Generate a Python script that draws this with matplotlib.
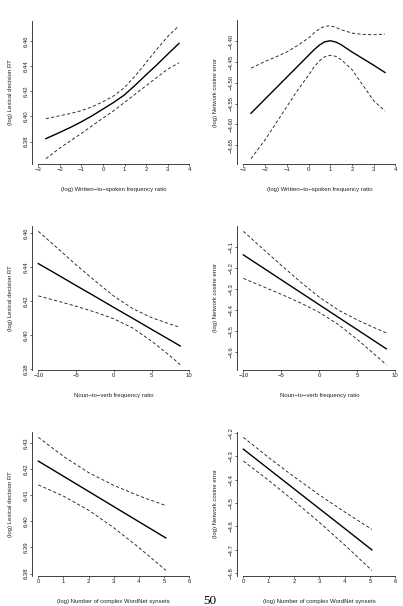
import numpy as np
import matplotlib
matplotlib.use('Agg')
import matplotlib.pyplot as plt

plt.rcParams['font.family'] = ['Liberation Sans', 'DejaVu Sans']

### data
# row 1: written-to-spoken frequency ratio
ws_x = [-2.65, -2.0, -1.5, -1.0, -0.5, 0.0, 0.5, 1.0, 1.5, 2.0, 2.5, 3.0, 3.52]
ws_rt = [6.3824, 6.3874, 6.3914, 6.3958, 6.4006, 6.4059, 6.4112, 6.4172, 6.4249, 6.4331, 6.4410, 6.4494, 6.4579]
ws_rt_hi = [6.3982, 6.4006, 6.4024, 6.4046, 6.4077, 6.4117, 6.4164, 6.4230, 6.4323, 6.4428, 6.4534, 6.4634, 6.4719]
ws_rt_lo = [6.3665, 6.3750, 6.3808, 6.3866, 6.3927, 6.3987, 6.4046, 6.4112, 6.4178, 6.4244, 6.4310, 6.4375, 6.4426]

ws_x2 = [-2.65, -2.0, -1.5, -1.0, -0.5, 0.0, 0.25, 0.5, 0.75, 1.0, 1.25, 1.5, 2.0, 2.5, 3.0, 3.52]
ws_err = [-4.5733, -4.5390, -4.5127, -4.4863, -4.4600, -4.4336, -4.4205, -4.4090, -4.4010, -4.3985,
          -4.4015, -4.4080, -4.4256, -4.4415, -4.4575, -4.4750]
ws_err_hi = [-4.4644, -4.4484, -4.4375, -4.4256, -4.4096, -4.3920, -4.3800, -4.3700, -4.3635, -4.3625,
             -4.3660, -4.3720, -4.3800, -4.3832, -4.3840, -4.3824]
ws_err_lo = [-4.6828, -4.6373, -4.5973, -4.5574, -4.5174, -4.4815, -4.4620, -4.4470, -4.4370, -4.4336,
             -4.4360, -4.4440, -4.4680, -4.5055, -4.5430, -4.5678]

# row 2: noun-to-verb frequency ratio
nv_x = [-10.0, -7.5, -5.0, -2.5, 0.0, 2.5, 5.0, 7.5, 8.8]
nv_rt = [6.4420, 6.4356, 6.4291, 6.4227, 6.4162, 6.4098, 6.4033, 6.3969, 6.3935]
nv_rt_hi = [6.4610, 6.4512, 6.4413, 6.4319, 6.4229, 6.4155, 6.4102, 6.4063, 6.4045]
nv_rt_lo = [6.4230, 6.4200, 6.4169, 6.4135, 6.4095, 6.4041, 6.3964, 6.3875, 6.3825]
nv_err = [-4.1394, -4.1988, -4.2581, -4.3175, -4.3769, -4.4363, -4.4956, -4.5550, -4.5859]
nv_err_hi = [-4.0274, -4.1087, -4.1891, -4.2676, -4.3408, -4.4018, -4.4491, -4.4901, -4.5104]
nv_err_lo = [-4.2514, -4.2889, -4.3271, -4.3674, -4.4130, -4.4708, -4.5421, -4.6199, -4.6614]

# row 3: number of complex WordNet synsets
syn_x = [0.0, 1.0, 2.0, 3.0, 4.0, 5.07]
syn_rt = [6.4230, 6.4172, 6.4114, 6.4056, 6.3998, 6.3936]
syn_rt_hi = [6.4321, 6.4248, 6.4186, 6.4137, 6.4097, 6.4060]
syn_rt_lo = [6.4139, 6.4096, 6.4042, 6.3975, 6.3899, 6.3812]
syn_err = [-4.2687, -4.3539, -4.4391, -4.5243, -4.6095, -4.7014]
syn_err_hi = [-4.2177, -4.3049, -4.3871, -4.4653, -4.5385, -4.6134]
syn_err_lo = [-4.3197, -4.4029, -4.4911, -4.5833, -4.6805, -4.7894]

xlabels = ["(log) Written\u2212to\u2212spoken frequency ratio",
           "Noun\u2212to\u2212verb frequency ratio",
           "(log) Number of complex WordNet synsets"]
ylabels = ["(log) Lexical decision RT", "(log) Network cosine error"]

xticks = [np.arange(-3, 5, 1), np.arange(-10, 11, 5), np.arange(0, 7, 1)]
yticks = [[np.arange(6.38, 6.465, 0.02), np.arange(-4.65, -4.395, 0.05)],
          [np.arange(6.38, 6.465, 0.02), np.arange(-4.6, -4.05, 0.1)],
          [np.arange(6.38, 6.435, 0.01), np.arange(-4.8, -4.15, 0.1)]]
yfmt = [["%.2f", "%.2f"], ["%.2f", "%.1f"], ["%.2f", "%.1f"]]

panels = [[(ws_x, ws_rt, ws_rt_hi, ws_rt_lo), (ws_x2, ws_err, ws_err_hi, ws_err_lo)],
          [(nv_x, nv_rt, nv_rt_hi, nv_rt_lo), (nv_x, nv_err, nv_err_hi, nv_err_lo)],
          [(syn_x, syn_rt, syn_rt_hi, syn_rt_lo), (syn_x, syn_err, syn_err_hi, syn_err_lo)]]

### layout in pixels
W, H = 403, 606
cols = [(32.3, 195.3), (237.3, 401.5)]
rows = [(20.5, 164.0), (226.0, 370.0), (432.0, 575.7)]

fig = plt.figure(figsize=(W / 100, H / 100), dpi=100)
axcol = '#222222'
fs = 4.3

for i in range(3):
    for j in range(2):
        l, r = cols[j]
        t, b = rows[i]
        ax = fig.add_axes([l / W, 1 - b / H, (r - l) / W, (b - t) / H])
        x, y, hi, lo = panels[i][j]

        ax.plot(x, y, color='black', lw=1.0)
        ax.plot(x, hi, color='#222222', lw=0.65, dashes=(3.5, 2.5))
        ax.plot(x, lo, color='#222222', lw=0.65, dashes=(3.5, 2.5))

        # R style limits: 4% padding
        xt = xticks[i]
        xr = xt[-1] - xt[0]
        ax.set_xlim(xt[0] - 0.04 * xr, xt[-1] + 0.04 * xr)
        ymin = min(lo)
        ymax = max(hi)
        yr = ymax - ymin
        ax.set_ylim(ymin - 0.04 * yr, ymax + 0.04 * yr)

        ax.set_xticks(xt, labels=[str(v).replace('-', '\u2212') for v in xt])
        yt = yticks[i][j]
        ax.set_yticks(yt, labels=[(yfmt[i][j] % v).replace('-', '\u2212') for v in yt])

        for s in ['top', 'right']:
            ax.spines[s].set_visible(False)
        for s in ['left', 'bottom']:
            ax.spines[s].set_color(axcol)
            ax.spines[s].set_linewidth(0.6)
        ax.spines['bottom'].set_bounds(xt[0], xt[-1])

        ax.tick_params(direction='out', length=1.5, width=0.5, colors=axcol,
                       labelsize=fs, pad=1)
        ax.tick_params(axis='y', labelrotation=90)
        plt.setp(ax.get_yticklabels(), va='center')

        ax.set_xlabel(xlabels[i], fontsize=fs, color=axcol, labelpad=10.5)
        ax.set_ylabel(ylabels[j], fontsize=fs, color=axcol, labelpad=8)
        ax.patch.set_visible(False)

fig.text(209.5 / W, 1 - 600.5 / H, "50", ha='center', va='center',
         family=['Liberation Serif', 'DejaVu Serif'], fontsize=9.5)

plt.savefig("out.png", dpi=100)
plt.close()
